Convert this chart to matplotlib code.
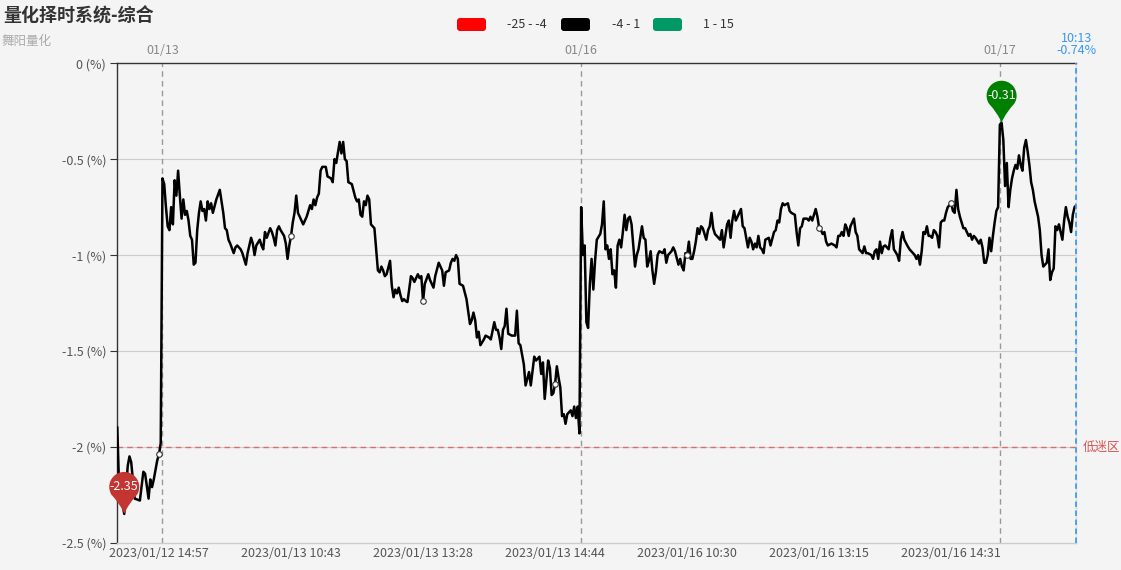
import numpy as np
import matplotlib
matplotlib.use('Agg')
import matplotlib.pyplot as plt
import matplotlib.transforms as mtransforms
from matplotlib.path import Path
from matplotlib.patches import PathPatch, FancyBboxPatch

plt.rcParams['font.family'] = ['Noto Sans CJK SC', 'DejaVu Sans']


def minutes(start, end):
    h0, m0 = map(int, start.split(':'))
    h1, m1 = map(int, end.split(':'))
    return ['%02d:%02d' % divmod(t, 60) for t in range(h0 * 60 + m0, h1 * 60 + m1 + 1)]


# trading minutes (category axis)
full_day = ['09:25'] + minutes('09:30', '11:30') + minutes('13:00', '14:57') + ['15:00']
days = [('2023/01/12', minutes('14:33', '14:57') + ['15:00']),
        ('2023/01/13', full_day),
        ('2023/01/16', full_day),
        ('2023/01/17', ['09:25'] + minutes('09:30', '10:13'))]
times = [d + ' ' + t for d, ts in days for t in ts]
day_tags = ['01/13', '01/16', '01/17']

# values: position in times -> percent
pos_0112 = [0, 1, 3, 4, 6, 7, 8, 10, 13, 15, 16, 18, 19, 20, 21, 23, 24, 25]
pct_0112 = [-1.90, -2.20, -2.30, -2.35, -2.10, -2.05, -2.08, -2.27, -2.28, -2.13, -2.14, -2.27,
            -2.17, -2.21, -2.17, -2.07, -2.04, -1.98]

pos_0113 = [26, 27, 28, 29, 30, 31, 32, 33, 34, 35, 36, 37, 38, 39, 40, 41, 42, 43, 44, 45, 46, 47,
            48, 49, 50, 51, 52, 53, 54, 55, 57, 59, 61, 62, 63, 64, 65, 67, 68, 69, 70, 71, 72, 74,
            75, 77, 78, 79, 80, 82, 83, 84, 85, 86, 88, 89, 90, 91, 92, 93, 94, 96, 97, 98, 99, 100,
            101, 102, 103, 104, 106, 107, 109, 111, 112, 113, 114, 115, 116, 117, 118, 120, 121, 123,
            124, 125, 126, 128, 129, 130, 131, 132, 133, 135, 137, 138, 139, 140, 141, 142, 143, 144,
            145, 146, 147, 148, 150, 151, 152, 153, 154, 155, 157, 158, 159, 160, 161, 162, 163, 164,
            165, 166, 167, 168, 169, 170, 171, 173, 174, 175, 176, 177, 179, 180, 182, 183, 185, 187,
            188, 189, 191, 192, 193, 194, 195, 196, 197, 199, 201, 203, 204, 205, 206, 207, 208, 209,
            211, 212, 214, 215, 217, 218, 219, 220, 221, 222, 223, 224, 225, 227, 229, 230, 231, 232,
            234, 235, 237, 238, 240, 241, 243, 244, 245, 246, 248, 249, 250, 251, 252, 253, 254, 255,
            256, 257, 258, 259, 261, 262, 263, 264, 265, 266]
pct_0113 = [-0.60, -0.63, -0.75, -0.85, -0.87, -0.75, -0.84, -0.61, -0.69, -0.56, -0.69, -0.81,
            -0.71, -0.79, -0.77, -0.82, -0.90, -0.92, -1.05, -1.04, -0.87, -0.78, -0.72, -0.77,
            -0.76, -0.82, -0.72, -0.76, -0.73, -0.78, -0.71, -0.66, -0.78, -0.86, -0.87, -0.92,
            -0.94, -0.99, -0.96, -0.95, -0.96, -0.97, -0.99, -1.05, -0.99, -0.91, -0.94, -1.00,
            -0.95, -0.92, -0.95, -0.97, -0.88, -0.91, -0.86, -0.88, -0.91, -0.95, -0.87, -0.85,
            -0.87, -0.90, -0.94, -1.02, -0.95, -0.90, -0.83, -0.78, -0.69, -0.78, -0.82, -0.84,
            -0.80, -0.74, -0.76, -0.71, -0.74, -0.70, -0.68, -0.56, -0.54, -0.54, -0.59, -0.60,
            -0.62, -0.50, -0.52, -0.41, -0.47, -0.41, -0.50, -0.51, -0.62, -0.63, -0.70, -0.72,
            -0.71, -0.79, -0.80, -0.72, -0.74, -0.69, -0.71, -0.84, -0.85, -0.86, -1.08, -1.09,
            -1.06, -1.08, -1.11, -1.10, -1.03, -1.16, -1.22, -1.18, -1.20, -1.17, -1.21, -1.24,
            -1.23, -1.24, -1.245, -1.18, -1.11, -1.12, -1.14, -1.10, -1.12, -1.11, -1.24, -1.15,
            -1.10, -1.13, -1.17, -1.11, -1.04, -1.08, -1.16, -1.09, -1.08, -1.04, -1.02, -1.03,
            -1.00, -1.02, -1.15, -1.16, -1.23, -1.36, -1.34, -1.30, -1.34, -1.43, -1.40, -1.47,
            -1.44, -1.42, -1.43, -1.44, -1.35, -1.39, -1.39, -1.43, -1.49, -1.39, -1.37, -1.28,
            -1.41, -1.42, -1.42, -1.29, -1.46, -1.47, -1.57, -1.68, -1.61, -1.68, -1.53, -1.55,
            -1.53, -1.62, -1.56, -1.75, -1.55, -1.59, -1.73, -1.72, -1.67, -1.58, -1.64, -1.69,
            -1.84, -1.83, -1.88, -1.83, -1.81, -1.84, -1.79, -1.85, -1.79, -1.93]

pos_0116 = [267, 268, 269, 270, 271, 272, 273, 274, 275, 276, 278, 279, 280, 281, 282, 283, 284,
            285, 286, 287, 288, 289, 290, 291, 292, 293, 294, 295, 296, 297, 298, 299, 300, 302,
            303, 304, 305, 306, 307, 308, 309, 310, 311, 312, 314, 315, 316, 317, 319, 320, 321,
            323, 324, 325, 326, 327, 328, 329, 330, 331, 332, 333, 334, 335, 336, 337, 339, 340,
            341, 342, 343, 344, 346, 347, 348, 349, 351, 352, 353, 354, 355, 356, 357, 359, 360,
            361, 363, 364, 365, 366, 367, 368, 369, 370, 371, 372, 373, 375, 376, 378, 379, 380,
            381, 382, 383, 384, 386, 387, 388, 390, 391, 392, 393, 394, 395, 397, 398, 399, 400,
            402, 403, 404, 405, 406, 407, 408, 409, 411, 413, 414, 415, 416, 417, 418, 419, 420,
            421, 422, 424, 425, 426, 427, 428, 429, 430, 431, 432, 434, 435, 436, 437, 438, 439,
            440, 441, 442, 443, 444, 445, 446, 447, 449, 450, 451, 452, 453, 455, 456, 458, 459,
            460, 461, 462, 463, 464, 465, 466, 467, 468, 469, 470, 471, 472, 473, 474, 475, 476,
            477, 478, 479, 480, 481, 482, 483, 484, 485, 486, 487, 488, 489, 490, 491, 492, 493,
            494, 496, 497, 498, 499, 500, 501, 502, 503, 504, 505, 506, 507]
pct_0116 = [-0.75, -1.00, -0.95, -1.35, -1.38, -1.15, -1.02, -1.18, -1.03, -0.92, -0.89, -0.84,
            -0.72, -0.97, -0.95, -1.02, -0.97, -1.10, -1.08, -1.17, -0.95, -0.92, -0.96, -0.88,
            -0.79, -0.87, -0.81, -0.80, -0.84, -0.95, -1.06, -1.00, -0.97, -0.85, -0.91, -0.92,
            -1.06, -1.03, -0.98, -1.08, -1.15, -1.09, -1.00, -0.98, -0.99, -0.97, -1.04, -1.00,
            -0.98, -0.96, -0.98, -1.05, -1.02, -1.06, -1.08, -0.99, -1.00, -0.93, -1.02, -1.02,
            -0.98, -0.93, -0.86, -0.89, -0.85, -0.86, -0.92, -0.87, -0.85, -0.78, -0.86, -0.89,
            -0.91, -0.92, -0.87, -0.96, -0.84, -0.82, -0.91, -0.82, -0.77, -0.82, -0.80, -0.76,
            -0.85, -0.86, -0.96, -0.91, -0.93, -0.97, -0.94, -0.96, -0.90, -0.96, -0.97, -0.99,
            -0.92, -0.91, -0.95, -0.88, -0.87, -0.82, -0.83, -0.76, -0.73, -0.74, -0.73, -0.77,
            -0.78, -0.79, -0.88, -0.95, -0.86, -0.85, -0.81, -0.81, -0.82, -0.80, -0.82, -0.76,
            -0.80, -0.86, -0.87, -0.89, -0.88, -0.93, -0.95, -0.94, -0.95, -0.96, -0.90, -0.90,
            -0.88, -0.90, -0.84, -0.86, -0.90, -0.85, -0.81, -0.88, -0.90, -0.97, -0.98, -0.99,
            -0.955, -0.99, -0.99, -1.00, -1.02, -0.98, -0.97, -1.02, -0.93, -0.99, -0.955, -0.95,
            -0.96, -0.97, -0.91, -0.87, -0.97, -1.00, -1.03, -0.92, -0.88, -0.92, -0.955, -0.97,
            -0.99, -1.00, -1.02, -1.00, -1.05, -0.98, -0.88, -0.89, -0.85, -0.90, -0.90, -0.91,
            -0.87, -0.88, -0.90, -0.96, -0.83, -0.82, -0.82, -0.78, -0.75, -0.74, -0.73, -0.77,
            -0.78, -0.66, -0.76, -0.80, -0.83, -0.86, -0.86, -0.88, -0.90, -0.89, -0.92, -0.90,
            -0.91, -0.94, -0.92, -0.96, -1.04, -1.04, -1.00, -0.91, -0.98, -0.90, -0.83, -0.77,
            -0.75]

pos_0117 = [508, 509, 510, 511, 512, 513, 514, 515, 516, 517, 518, 519, 520, 521, 522, 523, 524,
            525, 526, 527, 528, 529, 530, 531, 532, 533, 534, 535, 536, 537, 538, 539, 540, 541,
            542, 543, 544, 545, 546, 547, 548, 549, 550, 551, 552]
pct_0117 = [-0.32, -0.31, -0.40, -0.64, -0.52, -0.75, -0.66, -0.60, -0.56, -0.53, -0.55, -0.48,
            -0.53, -0.56, -0.44, -0.40, -0.46, -0.53, -0.62, -0.66, -0.72, -0.76, -0.80, -0.87,
            -1.00, -1.06, -1.05, -1.04, -0.97, -1.13, -1.09, -1.07, -0.85, -0.87, -0.84, -0.88,
            -0.92, -0.82, -0.75, -0.80, -0.83, -0.88, -0.79, -0.75, -0.74]

pos = pos_0112 + pos_0113 + pos_0116 + pos_0117
pct = pct_0112 + pct_0113 + pct_0116 + pct_0117

yticks = [0, -0.5, -1, -1.5, -2, -2.5]
ytick_labels = ['0 (%)', '-0.5 (%)', '-1 (%)', '-1.5 (%)', '-2 (%)', '-2.5 (%)']
low_line = -2
legend_labels = ['-25 - -4', '-4 - 1', '1 - 15']
legend_colors = ['#ff0000', '#000000', '#009966']

W, H = 1121, 570
bg = '#f4f4f4'
fig = plt.figure(figsize=(W / 100, H / 100), dpi=100, facecolor=bg)
ax = fig.add_axes([117.3 / W, (H - 542.7) / H, 959 / W, 479.4 / H], facecolor=bg)

ax.plot(pos, pct, color='#000000', lw=1.8, zorder=3, solid_joinstyle='round')

# label ticks every 76 points, starting at the last minute of the first day
tick_idx = list(range(24, len(times), 76))
lookup = dict(zip(pos, pct))
ax.plot(tick_idx, [lookup[i] for i in tick_idx], 'o', ms=4, mfc='white', mec='#333333',
        mew=0.8, zorder=4)

ax.set_xlim(0, len(times) - 1)
ax.set_ylim(-2.5, 0)
ax.set_xticks(tick_idx)
ax.set_xticklabels([times[i] for i in tick_idx], fontsize=9, color='#555555')
ax.tick_params(axis='x', length=0, pad=3)
ax.set_yticks(yticks)
ax.set_yticklabels(ytick_labels, fontsize=9, color='#555555')
ax.tick_params(axis='y', length=5, color='#333333', pad=3)
for v in yticks[1:-1]:
    ax.axhline(v, color='#cccccc', lw=0.8, zorder=1)

ax.spines['left'].set_color('#333333')
ax.spines['top'].set_color('#333333')
ax.spines['bottom'].set_color('#cccccc')
ax.spines['right'].set_color('#dddddd')
for s in ax.spines.values():
    s.set_linewidth(1)

# day separators
starts = np.cumsum([len(ts) for _, ts in days])[:-1]
for b, tag in zip(starts, day_tags):
    ax.axvline(b, color='#999999', lw=1, ls=(0, (4, 3)), zorder=2)
    ax.annotate(tag, xy=(b, 1), xycoords=('data', 'axes fraction'), xytext=(0, 13),
                textcoords='offset pixels', ha='center', va='center', fontsize=9, color='#888888')

# latest point
last = len(times) - 1
ax.axvline(last, color='#3d9bf7', lw=1.3, ls=(0, (3, 2)), zorder=5, clip_on=False)
ax.annotate(times[last][-5:] + '\n%.2f%%' % pct[-1], xy=(last, 1), xycoords=('data', 'axes fraction'),
            xytext=(0, 19), textcoords='offset pixels', ha='center', va='center', fontsize=9,
            color='#3a97f0', linespacing=0.95)

# low zone
ax.axhline(low_line, color='#dd6d6d', lw=1, ls=(0, (4, 3)), zorder=2)
ax.annotate('低迷区', xy=(1, low_line), xycoords=('axes fraction', 'data'), xytext=(6, 0),
            textcoords='offset pixels', ha='left', va='center', fontsize=9, color='#d9534f')


# min / max pins
def pin_path(r=15.0, h=27.0):
    a0 = np.deg2rad(-30)
    th = np.linspace(a0, np.pi - a0, 60)
    arc = np.c_[r * np.cos(th), h + r * np.sin(th)]
    verts = [(0, 0), (r * 0.25, h * 0.35), tuple(arc[0])]
    codes = [Path.MOVETO, Path.CURVE3, Path.CURVE3]
    for p in arc[1:]:
        verts.append(tuple(p))
        codes.append(Path.LINETO)
    verts += [(-r * 0.25, h * 0.35), (0, 0), (0, 0)]
    codes += [Path.CURVE3, Path.CURVE3, Path.CLOSEPOLY]
    return Path(verts, codes)


imin = int(np.argmin(pct))
imax = int(np.argmax(pct))
for i, col in [(imin, '#c23531'), (imax, '#008000')]:
    x, y = pos[i], pct[i]
    tr = mtransforms.ScaledTranslation(x, y, ax.transData)
    ax.add_patch(PathPatch(pin_path(), transform=tr, facecolor=col, edgecolor='none',
                           zorder=6, clip_on=False))
    ax.annotate('%.2f' % y, xy=(x, y), xytext=(0, 27), textcoords='offset pixels',
                ha='center', va='center', fontsize=9, color='white', zorder=7)

# title
fig.text(3 / W, 1 - 16 / H, '量化择时系统-综合', fontsize=13, fontweight='bold', color='#333333',
         va='center', ha='left')
fig.text(2 / W, 1 - 41 / H, '舞阳量化', fontsize=9, color='#aaaaaa', va='center', ha='left')

# piecewise legend
lx = [457, 561, 653]
tx = [507, 612, 703]
for x0, t0, lab, col in zip(lx, tx, legend_labels, legend_colors):
    fig.add_artist(FancyBboxPatch((x0, H - 31), 29, 13, boxstyle='round,pad=0,rounding_size=3',
                                  transform=mtransforms.IdentityTransform(), facecolor=col,
                                  edgecolor='none'))
    fig.text(t0 / W, 1 - 24.5 / H, lab, fontsize=9, color='#333333', va='center', ha='left')

fig.savefig('out.png', dpi=100, facecolor=bg)
